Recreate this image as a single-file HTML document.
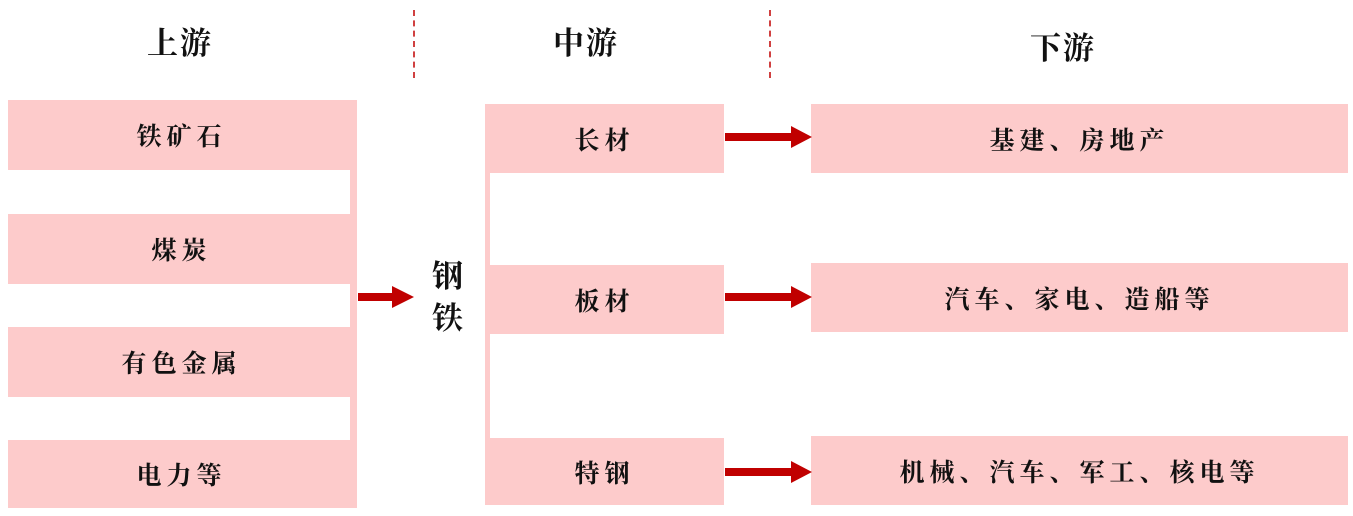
<!DOCTYPE html>
<html><head><meta charset="utf-8"><style>
body{margin:0;width:1353px;height:516px;background:#fff;position:relative;overflow:hidden;font-family:"Liberation Serif","Noto Serif CJK SC",serif;font-weight:bold;color:#111}
.b{position:absolute;background:#fdcbcb;display:flex;align-items:center;justify-content:center;font-size:25px;letter-spacing:5px}
.t{position:absolute;font-size:31px;transform:translateX(-50%);letter-spacing:2px}
.d{position:absolute;width:0;border-left:2px dashed #d04040;top:10px;height:68px}
</style></head><body>
<div class="t" style="left:180px;top:18px">上游</div>
<div class="t" style="left:586px;top:18px">中游</div>
<div class="t" style="left:1063px;top:23px">下游</div>
<div class="d" style="left:413px"></div>
<div class="d" style="left:769px"></div>

<div class="b" style="left:350px;top:100px;width:7px;height:408px"></div>
<div class="b" style="left:8px;top:100px;width:347px;height:70px">铁矿石</div>
<div class="b" style="left:8px;top:214px;width:347px;height:70px">煤炭</div>
<div class="b" style="left:8px;top:327px;width:347px;height:70px">有色金属</div>
<div class="b" style="left:8px;top:440px;width:347px;height:68px">电力等</div>

<div style="position:absolute;left:432px;top:256px;font-size:31px;line-height:42px">钢<br>铁</div>

<div class="b" style="left:485px;top:104px;width:5px;height:401px"></div>
<div class="b" style="left:485px;top:104px;width:239px;height:69px">长材</div>
<div class="b" style="left:485px;top:265px;width:239px;height:69px">板材</div>
<div class="b" style="left:485px;top:438px;width:239px;height:67px">特钢</div>

<div class="b" style="left:811px;top:104px;width:537px;height:69px">基建、房地产</div>
<div class="b" style="left:811px;top:263px;width:537px;height:69px">汽车、家电、造船等</div>
<div class="b" style="left:811px;top:436px;width:537px;height:69px">机械、汽车、军工、核电等</div>

<svg width="1353" height="516" style="position:absolute;left:0;top:0">
<g fill="#c00000">
<rect x="358" y="293" width="35" height="8"/><polygon points="392,286 414,297 392,308"/>
<rect x="725" y="133" width="68" height="8"/><polygon points="791,126 812,137 791,148"/>
<rect x="725" y="293" width="68" height="8"/><polygon points="791,286 812,297 791,308"/>
<rect x="725" y="468" width="68" height="8"/><polygon points="791,461 812,472 791,483"/>
</g></svg>
</body></html>
